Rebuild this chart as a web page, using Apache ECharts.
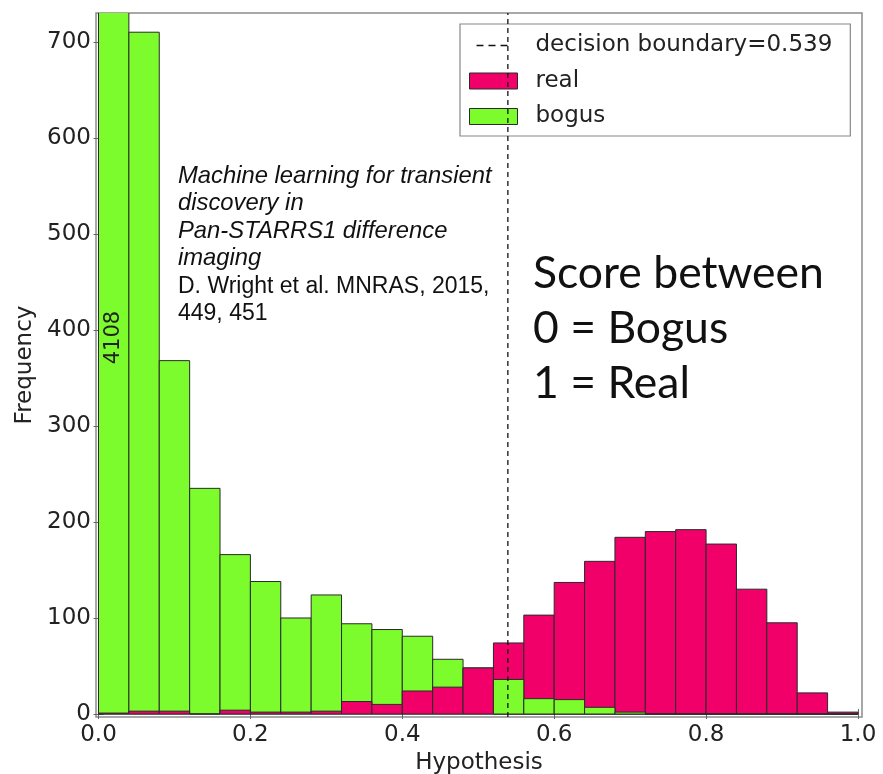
<!DOCTYPE html>
<html>
<head>
<meta charset="utf-8">
<script src="https://cdn.jsdelivr.net/npm/echarts@6/dist/echarts.min.js"></script>
<style>html,body{margin:0;padding:0;background:#fff}#c{width:883px;height:774px}</style>
</head>
<body>
<div id="c"></div>
<script>
// ---- data ----
const binStart = [0.00,0.04,0.08,0.12,0.16,0.20,0.24,0.28,0.32,0.36,0.40,0.44,0.48,0.52,0.56,0.60,0.64,0.68,0.72,0.76,0.80,0.84,0.88,0.92,0.96];
const binWidth = 0.04;
const bogus = [4108,710,368,235,166,138,100,124,94,88,81,57,48,36,16,15,7,2,0,0,0,0,0,0,0];
const real  = [1,3,3,0,4,2,2,3,13,10,24,28,48,74,103,137,159,184,190,192,177,130,95,22,2];
const boundary = 0.539;
const xTicks = [0.0,0.2,0.4,0.6,0.8,1.0];
const yTicks = [0,100,200,300,400,500,600,700];
const xRange = [-0.0033, 1.0053];
const yRange = [-3.1, 730];
const overflowLabelY = 392;

const GREEN = '#7cfc2c', PINK = '#f2006a', EDGE = '#2a2a2a';
const AX_FONT = 'DejaVu Sans';

const chart = echarts.init(document.getElementById('c'), null, {renderer:'canvas'});

function makeBarSeries(name, values, color, z, filter) {
  return {
    type: 'custom', name: name, z: z, clip: true,
    itemStyle: {color: color},
    data: binStart.map((s, i) => [s, s + binWidth, values[i], i]),
    renderItem: function (params, api) {
      const i = api.value(3);
      if (filter && !filter(i)) return null;
      const p0 = api.coord([api.value(0), 0]);
      const p1 = api.coord([api.value(1), api.value(2)]);
      return {
        type: 'rect',
        shape: {x: p0[0], y: p1[1], width: p1[0] - p0[0], height: p0[1] - p1[1]},
        style: {fill: color, stroke: EDGE, lineWidth: 1}
      };
    }
  };
}

const fmtX = v => v.toFixed(1);
const dashIcon = 'path://M0,0h0.01v0.01h-0.01z M7,0h7v1.4h-7z M19,0h7v1.4h-7z M31,0h7v1.4h-7z M47.99,0h0.01v0.01h-0.01z';

const option = {
  animation: false,
  backgroundColor: '#fff',
  grid: {left: 96, top: 13, width: 766, height: 704, show: true, borderColor: '#8c8c8c', borderWidth: 1.5,
         backgroundColor: 'transparent', outerBoundsMode: 'none', containLabel: false},
  xAxis: [
    {type: 'value', min: xRange[0], max: xRange[1], position: 'bottom',
     name: 'Hypothesis', nameLocation: 'middle', nameGap: 27,
     nameTextStyle: {fontFamily: AX_FONT, fontSize: 23, color: '#222'},
     axisLine: {show: false}, splitLine: {show: false},
     axisTick: {inside: true, length: 5, lineStyle: {color: '#666'}, customValues: xTicks},
     axisLabel: {fontFamily: AX_FONT, fontSize: 23, color: '#222', margin: 7, customValues: xTicks, formatter: fmtX}},
    {type: 'value', min: xRange[0], max: xRange[1], position: 'top',
     axisLine: {show: false}, splitLine: {show: false},
     axisTick: {inside: true, length: 5, lineStyle: {color: '#666'}, customValues: xTicks},
     axisLabel: {show: false}}
  ],
  yAxis: [
    {type: 'value', min: yRange[0], max: yRange[1], position: 'left',
     name: 'Frequency', nameLocation: 'middle', nameGap: 58,
     nameTextStyle: {fontFamily: AX_FONT, fontSize: 23, color: '#222'},
     axisLine: {show: false}, splitLine: {show: false},
     axisTick: {inside: true, length: 5, lineStyle: {color: '#666'}, customValues: yTicks},
     axisLabel: {fontFamily: AX_FONT, fontSize: 23, color: '#222', margin: 5, customValues: yTicks}},
    {type: 'value', min: yRange[0], max: yRange[1], position: 'right',
     axisLine: {show: false}, splitLine: {show: false},
     axisTick: {inside: true, length: 5, lineStyle: {color: '#666'}, customValues: yTicks},
     axisLabel: {show: false}}
  ],
  legend: {
    left: 460, top: 24, orient: 'vertical',
    backgroundColor: '#fff', borderColor: '#888', borderWidth: 1.2, borderRadius: 0,
    padding: [10, 18, 8, 9],
    itemWidth: 48, itemHeight: 16, itemGap: 12.5,
    textStyle: {fontFamily: AX_FONT, fontSize: 23, color: '#222', padding: [0, 0, 0, 13]},
    data: [
      {name: 'decision boundary=' + boundary, icon: dashIcon, itemStyle: {color: '#111', borderWidth: 0}},
      {name: 'real', icon: 'rect', itemStyle: {color: PINK, borderColor: EDGE, borderWidth: 1}},
      {name: 'bogus', icon: 'rect', itemStyle: {color: GREEN, borderColor: EDGE, borderWidth: 1}}
    ]
  },
  series: [
    makeBarSeries('bogus', bogus, GREEN, 2, null),
    makeBarSeries('real', real, PINK, 3, null),
    Object.assign(makeBarSeries('bogus', bogus, GREEN, 4, i => bogus[i] < real[i]), {
      markPoint: {
        symbol: 'circle', symbolSize: 0, silent: true,
        data: [{coord: [binStart[0] + binWidth / 2, overflowLabelY], value: bogus[0]}],
        label: {show: true, rotate: 90, position: 'inside', formatter: '{c}', fontFamily: AX_FONT, fontSize: 21, color: '#222'}
      }
    }),
    {
      type: 'line', name: 'decision boundary=' + boundary, z: 6,
      symbol: 'none', silent: true,
      lineStyle: {color: '#111', width: 1.3, type: [5, 4]},
      itemStyle: {color: '#111'},
      data: [[boundary, yRange[0]], [boundary, yRange[1]]]
    }
  ],
  graphic: [
    {
      type: 'text', left: 178, top: 164, z: 10,
      style: {
        text: '{i|Machine learning for transient}\n{i|discovery in}\n{i|Pan-STARRS1 difference}\n{i|imaging}\n{n|D. Wright et al. MNRAS, 2015,}\n{n|449, 451}',
        rich: {
          i: {fontFamily: 'Liberation Sans', fontStyle: 'italic', fontSize: 23.8, lineHeight: 27.6, fill: '#111'},
          n: {fontFamily: 'Liberation Sans', fontSize: 23, lineHeight: 27.6, fill: '#111'}
        }
      }
    },
    {
      type: 'text', left: 533, top: 246, z: 10,
      style: {
        text: 'Score between\n0 = Bogus\n1 = Real',
        fontFamily: 'Lato', fontSize: 44.5, lineHeight: 55, fill: '#111'
      }
    }
  ]
};
chart.setOption(option);
</script>
</body>
</html>
